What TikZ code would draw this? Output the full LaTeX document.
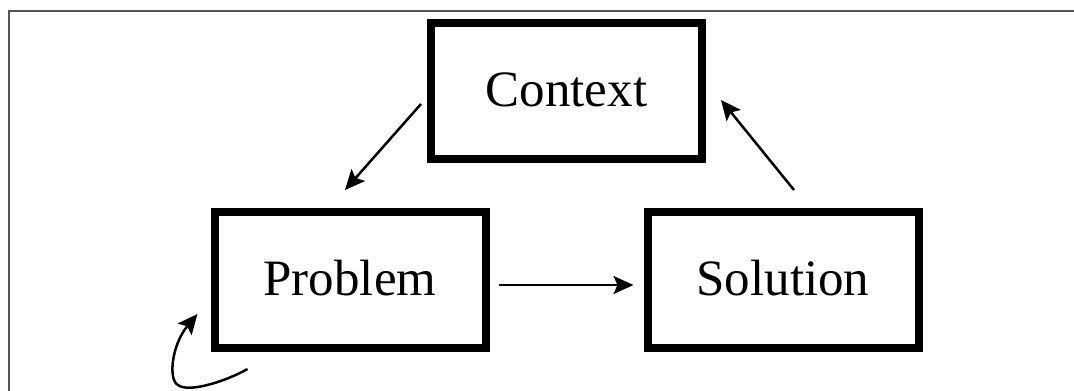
\documentclass[tikz,border=0pt]{standalone}
\usepackage{fontspec}
\setmainfont{Liberation Serif}
\usetikzlibrary{arrows.meta,calc}
\tikzset{
  stagebox/.style={draw=black, line width=8pt, minimum width=271pt, minimum height=136pt,
    inner sep=0pt, font=\fontsize{51}{60}\selectfont, text height=31pt, text depth=0pt},
  flow/.style={line width=2.5pt, -{Stealth[length=20pt,width=18pt,inset=4pt]}},
  frameline/.style={draw={rgb,255:red,85;green,85;blue,85}, line width=2pt}
}
\begin{document}
\begin{tikzpicture}[x=1pt,y=-1pt]
  \useasboundingbox (0,0) rectangle (1074,391);
  % page frame (top and left edges)
  \draw[frameline] (8.5,391) -- (8.5,10.5) -- (1074,10.5);

  % the three stages
  \node[stagebox] (context)  at (566.5,91) {Context};
  \node[stagebox] (problem)  at (350,280)  {Problem};
  \node[stagebox] (solution) at (783,280)  {Solution};

  % connector end points
  \coordinate (cp1) at ($(context.west)+(-6,13)$);
  \coordinate (cp2) at ($(problem.north)+(-5,-18)$);
  \coordinate (ps1) at ($(problem.east)+(9,5)$);
  \coordinate (ps2) at ($(solution.west)+(-10,5)$);
  \coordinate (sc1) at ($(solution.north)+(11,-18)$);
  \coordinate (sc2) at ($(context.east)+(15,9)$);
  \coordinate (loop1) at ($(problem.south west)+(37,17)$);
  \coordinate (loop2) at ($(problem.south west)+(-13,-38)$);

  \draw[flow] (cp1) -- (cp2);
  \draw[flow] (ps1) -- (ps2);
  \draw[flow] (sc1) -- (sc2);
  \draw[flow] (loop1) .. controls +(-23,13) and +(10,8) .. (178,385)
                      .. controls +(-10,-5) and +(-26,31) .. (loop2);
\end{tikzpicture}
\end{document}
